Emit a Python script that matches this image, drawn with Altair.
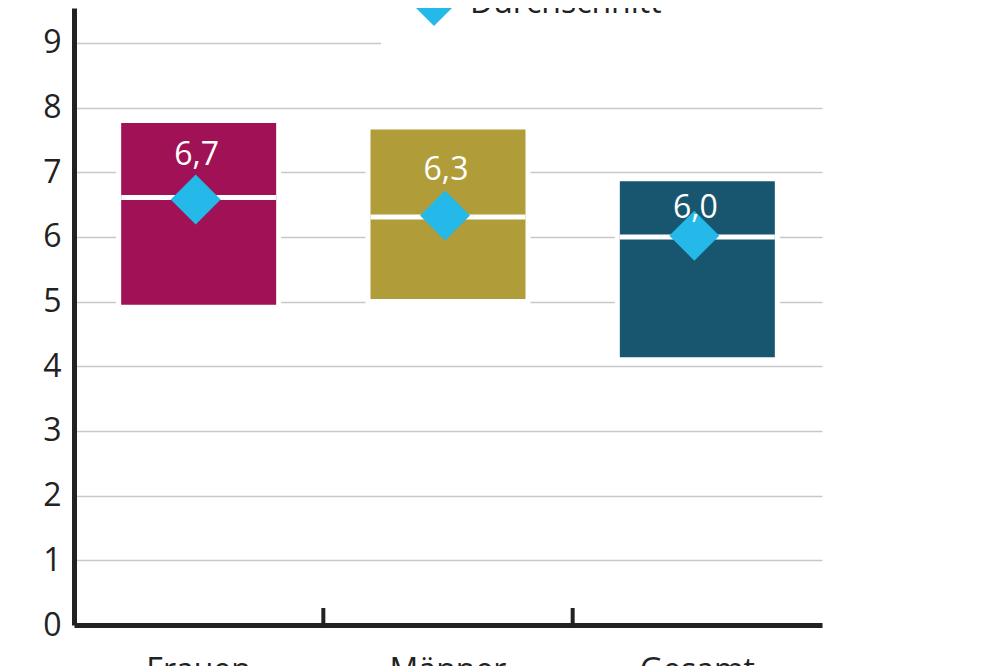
import altair as alt
import pandas as pd

# ---- data ----
categories = ["Frauen", "Männer", "Gesamt"]
q1 = [4.95, 5.04, 4.14]
q3 = [7.76, 7.66, 6.86]
median = [6.61, 6.31, 6.00]
mean = [6.58, 6.33, 6.02]
mean_labels = ["6,7", "6,3", "6,0"]
label_y = [7.11, 6.88, 6.29]
colors = ["#A01155", "#B09D3A", "#17566E"]
y_ticks = [0, 1, 2, 3, 4, 5, 6, 7, 8, 9]
legend_label = ["Durchschnitt"]

FONT = "Open Sans"
DIAMOND = "#25B9E9"

df = pd.DataFrame(dict(cat=categories, q1=q1, q3=q3, median=median, mean=mean,
                       label=mean_labels, label_y=label_y, color=colors))
ticks_df = pd.DataFrame({"cat": categories[1:]})
legend_df = pd.DataFrame({"label": legend_label})

x_enc = alt.X(
    "cat:N", sort=categories,
    scale=alt.Scale(paddingInner=0, paddingOuter=0),
    axis=alt.Axis(title=None, labelAngle=0, labelFontSize=32, labelFont=FONT,
                  labelColor="#222", labelPadding=30, ticks=False,
                  domainColor="#222", domainWidth=5, grid=False),
)
y_scale = alt.Scale(domain=[0, 9.54], nice=False, zero=True)
y_axis = alt.Axis(title=None, values=y_ticks, format="d", labelFontSize=32,
                  labelFont=FONT, labelColor="#222", ticks=False, labelPadding=13,
                  grid=True, gridColor="#c8c8c8", gridWidth=1.5,
                  domainColor="#222", domainWidth=5)

base = alt.Chart(df).encode(x=x_enc)

halo = base.mark_bar(size=155, fill="white", stroke="white", strokeWidth=10).encode(
    y=alt.Y("q1:Q", scale=y_scale, axis=y_axis), y2="q3:Q")
boxes = base.mark_bar(size=155).encode(
    y="q1:Q", y2="q3:Q", color=alt.Color("color:N", scale=None))
medians = base.mark_tick(size=155, thickness=5, color="white", opacity=1).encode(y="median:Q")
diamonds = base.mark_point(shape="diamond", size=2500, filled=True, color=DIAMOND,
                           opacity=1, xOffset=-3).encode(y="mean:Q")
labels = base.mark_text(color="white", fontSize=32, font=FONT, baseline="alphabetic",
                        dx=-2).encode(y="label_y:Q", text="label:N")

xticks = alt.Chart(ticks_df).mark_rule(color="#222", strokeWidth=4).encode(
    x=alt.X("cat:N", sort=categories, bandPosition=0),
    y=alt.value(617), y2=alt.value(600))

legend_bg = alt.Chart(legend_df).mark_rect(color="white").encode(
    x=alt.value(307), x2=alt.value(760), y=alt.value(-20), y2=alt.value(47))
legend_sym = alt.Chart(legend_df).mark_point(shape="diamond", size=2500, filled=True,
                                             color=DIAMOND, opacity=1).encode(
    x=alt.value(360), y=alt.value(-7))
legend_txt = alt.Chart(legend_df).mark_text(align="left", baseline="alphabetic",
                                            fontSize=32, font=FONT, color="#222").encode(
    x=alt.value(396), y=alt.value(5), text="label:N")

chart = alt.layer(
    halo, legend_bg, boxes, medians, diamonds, labels, xticks, legend_sym, legend_txt
).properties(
    width=748, height=617,
    autosize=alt.AutoSizeParams(type="none"),
    padding={"left": 66, "top": 0, "right": 150, "bottom": 50},
).configure_view(stroke=None)

chart.save("out.html", embed_options={"renderer": "svg", "actions": False})
